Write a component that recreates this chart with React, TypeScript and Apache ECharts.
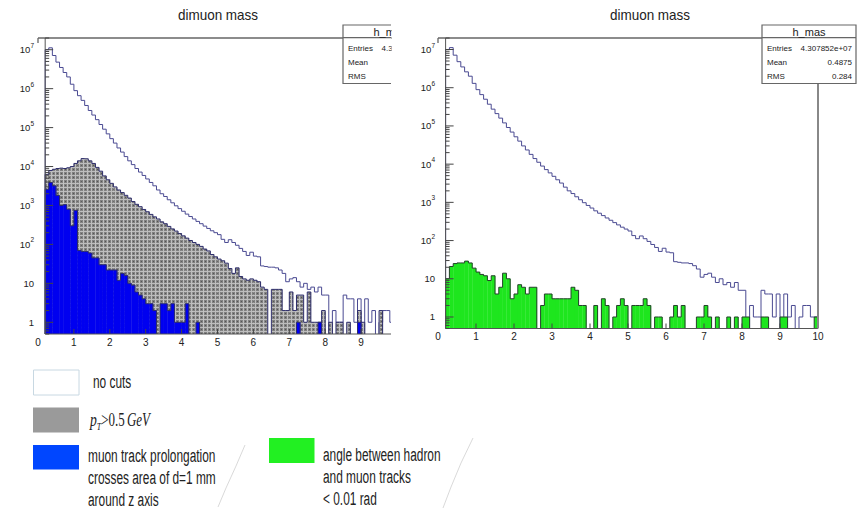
import React, { useEffect, useRef } from "react";
import * as echarts from "echarts";

// ---------- data ----------
const BIN_START = 0.2; // first drawn bin edge
const BIN_WIDTH = 0.1;
const X_MIN = 0;
const X_MAX = 10;
const Y_MIN = 0.5;
const Y_MAX = 2e7;

// counts per 0.1 bin, bins 0.2 .. 9.9
const noCuts = [
  1.0e7, 1.12e7, 7.1e6, 4.8e6, 3.5e6, 2.6e6, 2.0e6, 1.3e6,
  8.9e5, 6.6e5, 5.0e5, 3.7e5, 2.75e5, 2.1e5, 1.6e5, 1.2e5, 9.1e4, 6.9e4,
  5.2e4, 4.0e4, 3.0e4, 2.35e4, 1.8e4, 1.4e4, 1.12e4, 8900, 7200, 5900,
  4800, 3900, 3200, 2500, 2000, 1700, 1400, 1170, 980, 830,
  710, 600, 520, 450, 390, 340, 295, 257, 224, 200,
  178, 135, 112, 132, 112, 95, 79, 66, 52, 63,
  50, 48, 28, 27, 26, 26, 25, 22, 18, 11,
  13, 14, 11, 8, 10, 7, 8, 6, 8, 5,
  5, 0, 2, 1, 1, 5, 4, 4, 1, 4,
  0, 4, 1, 2, 0, 1, 2, 2, 1, 1,
];

const ptCut = [
  6300, 7900, 8500, 8900, 9100, 8900, 9300, 10000,
  12000, 14000, 16000, 15800, 14000, 12000, 9500, 7600, 5750, 4570,
  3700, 3000, 2500, 2140, 1820, 1550, 1260, 1070, 930, 790,
  690, 590, 510, 450, 380, 340, 290, 250, 220, 190,
  166, 145, 126, 112, 100, 89, 76, 68, 55, 48,
  42, 38, 33, 24, 18, 25, 15, 13, 12, 13,
  12, 11, 8, 7, 0, 7, 7, 7, 2, 2,
  6, 2, 5, 5, 1, 6, 1, 1, 1, 2,
  0, 1, 0, 1, 1, 0, 1, 0, 0, 2,
  1, 0, 0, 0, 0, 2, 0, 0, 0, 0,
];

const muonTrackCut = [
  2600, 3900, 3200, 1800, 1000, 1050, 800, 300,
  750, 70, 66, 66, 60, 45, 45, 30, 30, 22,
  22, 22, 12, 18, 16, 10, 9, 6, 5, 4,
  3, 3, 2, 0, 3, 3, 2, 3, 1, 1,
  1, 3, 0, 0, 1, 0, 0, 0, 0, 0,
  0, 0, 0, 0, 0, 0, 0, 0, 0, 0,
  0, 0, 0, 0, 0, 0, 0, 0, 0, 0,
  0, 0, 1, 0, 0, 0, 0, 0, 1, 0,
  0, 0, 0, 0, 0, 0, 0, 0, 0, 1,
  0, 0, 0, 0, 0, 0, 0, 0, 0, 0,
];

const angleCut = [
  10, 21, 25, 26, 26, 29, 26, 19,
  15, 13, 12, 9, 12, 4, 6, 14, 10, 3,
  4, 7, 6, 4, 6, 6, 0, 2, 4, 4,
  3, 3, 3, 3, 3, 6, 5, 2, 2, 0,
  0, 2, 0, 3, 2, 0, 1, 2, 3, 2,
  0, 2, 2, 2, 3, 2, 0, 1, 1, 0,
  0, 1, 2, 1, 2, 0, 0, 0, 1, 1,
  2, 1, 0, 1, 0, 0, 1, 0, 1, 0,
  1, 1, 0, 0, 0, 1, 1, 0, 0, 0,
  1, 1, 0, 0, 0, 0, 0, 0, 0, 1,
];

const panelTitle = "dimuon mass";
const statsName = "h_mas";
const statsLabels = ["Entries", "Mean", "RMS"];
const statsValues = ["4.307852e+07", "0.4875", "0.284"];

const legendNoCuts = "no cuts";
const legendMuon = ["muon track prolongation", "crosses area of d=1 mm", "around z axis"];
const legendAngle = ["angle between hadron", "and muon tracks", "< 0.01 rad"];

// ---------- styles ----------
const FONT = "'Liberation Sans', Arial, sans-serif";
const SERIF = "'Liberation Serif', 'DejaVu Serif', serif";
const NOCUT_LINE = "#4a4a92";
const HIST_LINE = "#2d2d6b";
const BLUE_FILL = "#0000f0";
const GREEN_FILL = "#1ee61e";
const GREEN_LINE = "#24402a";
const FRAME = "#555";
const CROP_X = 391; // the left picture is cut here

function makeHatch(): HTMLCanvasElement {
  const c = document.createElement("canvas");
  c.width = 4;
  c.height = 4;
  const g = c.getContext("2d")!;
  g.fillStyle = "#808080";
  g.fillRect(0, 0, 4, 4);
  g.fillStyle = "#bdbdbd";
  g.fillRect(3, 0, 1, 4);
  g.fillRect(0, 3, 4, 1);
  g.fillStyle = "#555555";
  g.fillRect(1, 1, 1, 1);
  return c;
}

function histSeries(id: string, gridIdx: number, values: number[], fill: any, stroke: string, z: number) {
  const data: number[][] = [];
  for (let i = 0; i <= values.length; i++) {
    const x0 = +(BIN_START + i * BIN_WIDTH).toFixed(2);
    data.push([x0, +(x0 + BIN_WIDTH).toFixed(2), i < values.length ? values[i] : 0, i > 0 ? values[i - 1] : 0]);
  }
  return {
    type: "custom",
    id,
    xAxisIndex: gridIdx,
    yAxisIndex: gridIdx,
    z,
    silent: true,
    clip: true,
    data,
    renderItem(_params: any, api: any) {
      const x0 = api.value(0);
      const x1 = api.value(1);
      const v = api.value(2);
      const pv = api.value(3);
      const b = api.coord([x0, Y_MIN]);
      const base = b[1];
      const px0 = b[0];
      const px1 = api.coord([x1, Y_MIN])[0];
      const lvl = (val: number) => (val > 0 ? api.coord([x0, val])[1] : base);
      const y = lvl(v);
      const py = lvl(pv);
      const children: any[] = [];
      if (fill && v > 0) {
        children.push({ type: "rect", z2: 0, shape: { x: px0, y, width: px1 - px0 + 0.3, height: base - y }, style: { fill } });
      }
      if (Math.abs(py - y) > 0.01) {
        children.push({ type: "line", z2: 10, shape: { x1: px0, y1: py, x2: px0, y2: y }, style: { stroke, lineWidth: 1 } });
      }
      if (v > 0) {
        children.push({ type: "line", z2: 10, shape: { x1: px0, y1: y, x2: px1, y2: y }, style: { stroke, lineWidth: 1 } });
      }
      return { type: "group", children };
    },
  };
}

function frameSeries(gridIdx: number) {
  return {
    type: "custom",
    id: "frame" + gridIdx,
    xAxisIndex: gridIdx,
    yAxisIndex: gridIdx,
    z: 10,
    silent: true,
    clip: false,
    data: [[X_MIN, 1]],
    renderItem(_params: any, api: any) {
      const [xL, yTop] = api.coord([X_MIN, Y_MAX]);
      const [xA, yBot] = api.coord([BIN_START, Y_MIN]);
      const xR = api.coord([X_MAX, Y_MIN])[0];
      const ln = (x1: number, y1: number, x2: number, y2: number, stroke = FRAME, w = 1) => ({
        type: "line",
        shape: { x1, y1, x2, y2 },
        style: { stroke, lineWidth: w },
      });
      const ch: any[] = [];
      ch.push(ln(xL, yTop, xR, yTop, "#666", 1.3));
      ch.push(ln(xL, yTop, xL, yTop + 5, "#666", 1.3));
      ch.push(ln(xA, yTop, xA, yBot, FRAME, 1));
      ch.push(ln(xA, yBot, xR, yBot, FRAME, 1));
      ch.push(ln(xR, yTop, xR, yBot, "#888", 2));
      for (let n = -1; n <= 7; n++) {
        for (let k = 1; k <= 9; k++) {
          const v = k * Math.pow(10, n);
          if (v < Y_MIN || v > Y_MAX) continue;
          const y = api.coord([BIN_START, v])[1];
          ch.push(ln(xA, y, xA + (k === 1 ? 8 : 4), y, "#444", 1));
        }
      }
      for (let t = 1; t < X_MAX; t++) {
        const x = api.coord([t, Y_MIN])[0];
        ch.push(ln(x, yBot, x, yBot - 5, "#444", 1));
      }
      return { type: "group", children: ch };
    },
  };
}

function yLabel(v: number) {
  const n = Math.round(Math.log10(v));
  if (n === 0) return "{b|1}";
  if (n === 1) return "{b|10}";
  return "{b|10}{s|" + n + "}";
}

function xAxisCfg(gridIndex: number) {
  return {
    type: "value",
    gridIndex,
    min: X_MIN,
    max: X_MAX,
    interval: 1,
    axisLine: { show: false },
    axisTick: { show: false },
    splitLine: { show: false },
    axisLabel: { fontSize: 10, color: "#222", margin: 3, fontFamily: FONT },
  };
}

function yAxisCfg(gridIndex: number, margin: number) {
  return {
    type: "log",
    logBase: 10,
    gridIndex,
    min: Y_MIN,
    max: Y_MAX,
    splitNumber: 8,
    axisLine: { show: false },
    axisTick: { show: false },
    splitLine: { show: false },
    axisLabel: {
      showMinLabel: false,
      showMaxLabel: false,
      margin,
      color: "#222",
      fontFamily: FONT,
      formatter: yLabel,
      rich: {
        b: { fontSize: 9.5, lineHeight: 16, fontFamily: FONT, color: "#222" },
        s: { fontSize: 6.5, lineHeight: 7, verticalAlign: "top", fontFamily: FONT, color: "#222" },
      },
    },
  };
}

function txt(x: number, y: number, text: string, fontSize: number, opts: any = {}) {
  const align = opts.align || "left";
  const valign = opts.valign || "middle";
  const style: any = {
    text,
    fontSize,
    fontFamily: opts.font || FONT,
    fill: opts.fill || "#222",
    align,
    textAlign: align,
    verticalAlign: valign,
    textVerticalAlign: valign,
    lineHeight: opts.lineHeight,
  };
  if (opts.width) {
    style.width = opts.width;
    style.overflow = "truncate";
    style.ellipsis = "";
  }
  return { type: "text", x, y, scaleX: opts.scaleX || 1, z: opts.z || 60, style };
}

const STATS_W = 94;
const STATS_ROWS_Y = [48.3, 62.2, 76];

function statsBoxFull(x0: number) {
  const w = STATS_W;
  const children: any[] = [
    { type: "rect", shape: { x: x0, y: 25, width: w, height: 58.5 }, style: { fill: "#fff", stroke: "#666", lineWidth: 1.2 }, z: 50 },
    { type: "line", shape: { x1: x0, y1: 37.7, x2: x0 + w, y2: 37.7 }, style: { stroke: "#666", lineWidth: 1.2 }, z: 51 },
    txt(x0 + w / 2, 31.6, statsName, 11, { align: "center" }),
  ];
  statsLabels.forEach((l, i) => {
    children.push(txt(x0 + 5, STATS_ROWS_Y[i], l, 8));
    children.push(txt(x0 + w - 4, STATS_ROWS_Y[i], statsValues[i], 8, { align: "right" }));
  });
  return children;
}

// the left copy of the box is cut by the edge of the left picture
function statsBoxCut(x0: number) {
  const children: any[] = [
    { type: "rect", shape: { x: x0, y: 25, width: CROP_X - x0, height: 58.5 }, style: { fill: "#fff" }, z: 50 },
    {
      type: "polyline",
      shape: { points: [[CROP_X, 25], [x0, 25], [x0, 83.5], [CROP_X, 83.5]] },
      style: { stroke: "#666", lineWidth: 1.2, fill: "none" },
      z: 51,
    },
    { type: "line", shape: { x1: x0, y1: 37.7, x2: CROP_X, y2: 37.7 }, style: { stroke: "#666", lineWidth: 1.2 }, z: 51 },
    txt(x0 + 30.5, 31.6, statsName, 11, { width: 27 }),
  ];
  statsLabels.forEach((l, i) => children.push(txt(x0 + 5, STATS_ROWS_Y[i], l, 8)));
  children.push(txt(x0 + 38.6, STATS_ROWS_Y[0], statsValues[0], 8, { width: 14.5 }));
  return children;
}

function buildOption() {
  const hatch = makeHatch();
  const hatchFill = { image: hatch, repeat: "repeat", imageWidth: 4, imageHeight: 4 };

  const graphic: any[] = [
    txt(218, 15, panelTitle, 15, { align: "center", scaleX: 0.9 }),
    txt(650, 15, panelTitle, 15, { align: "center", scaleX: 0.9 }),
    ...statsBoxCut(343),
    ...statsBoxFull(762),
    // crop of the left picture
    { type: "rect", shape: { x: CROP_X, y: 84.5, width: 17, height: 272 }, style: { fill: "#fff" }, z: 100 },
    { type: "rect", shape: { x: CROP_X + 0.6, y: 20, width: 8, height: 70 }, style: { fill: "#fff" }, z: 100 },
    // legend
    { type: "rect", shape: { x: 33.5, y: 370, width: 45.5, height: 25 }, style: { fill: "#fff", stroke: "#c8d8e2", lineWidth: 1 }, z: 60 },
    { type: "rect", shape: { x: 33, y: 407.5, width: 46, height: 25 }, style: { fill: "#9a9a9a" }, z: 60 },
    { type: "rect", shape: { x: 33, y: 445, width: 46, height: 24.5 }, style: { fill: "#0046ff" }, z: 60 },
    { type: "rect", shape: { x: 269, y: 438, width: 45.5, height: 25 }, style: { fill: "#22f022" }, z: 60 },
    txt(93, 382, legendNoCuts, 18, { scaleX: 0.66 }),
    {
      type: "text",
      x: 90,
      y: 420,
      scaleX: 0.72,
      z: 60,
      style: {
        text: "{p|p}{t|T}{n|>0.5}{g|GeV}",
        fill: "#222",
        align: "left",
        textAlign: "left",
        verticalAlign: "middle",
        textVerticalAlign: "middle",
        rich: {
          p: { fontFamily: SERIF, fontStyle: "italic", fontSize: 19, lineHeight: 22, fill: "#222" },
          t: { fontFamily: SERIF, fontStyle: "italic", fontSize: 11, lineHeight: 10, verticalAlign: "bottom", fill: "#222" },
          n: { fontFamily: SERIF, fontSize: 18, lineHeight: 22, fill: "#222" },
          g: { fontFamily: SERIF, fontStyle: "italic", fontSize: 18, lineHeight: 22, fill: "#222", padding: [0, 0, 0, 3] },
        },
      },
    },
    txt(88, 445, legendMuon.join("\n"), 18, { scaleX: 0.66, valign: "top", lineHeight: 21.7 }),
    txt(323, 444, legendAngle.join("\n"), 18, { scaleX: 0.66, valign: "top", lineHeight: 21.8 }),
    {
      type: "polyline",
      shape: { points: [[245, 445], [236, 466], [226, 488], [218, 507]] },
      style: { stroke: "#cfcfcf", lineWidth: 0.8, fill: "none" },
      z: 5,
    },
    {
      type: "polyline",
      shape: { points: [[473, 438], [461, 463], [451, 487], [443, 508]] },
      style: { stroke: "#cfcfcf", lineWidth: 0.8, fill: "none" },
      z: 5,
    },
  ];

  return {
    animation: false,
    backgroundColor: "#fff",
    grid: [
      { left: 38, top: 38, width: 359, height: 296 },
      { left: 438, top: 38, width: 380, height: 290.5 },
    ],
    xAxis: [xAxisCfg(0), xAxisCfg(1)],
    yAxis: [yAxisCfg(0, 4), yAxisCfg(1, 3)],
    series: [
      histSeries("noCutsL", 0, noCuts, null, NOCUT_LINE, 2),
      histSeries("ptCut", 0, ptCut, hatchFill, HIST_LINE, 3),
      histSeries("muonTrack", 0, muonTrackCut, BLUE_FILL, HIST_LINE, 4),
      frameSeries(0),
      histSeries("noCutsR", 1, noCuts, null, NOCUT_LINE, 2),
      histSeries("angleCut", 1, angleCut, GREEN_FILL, GREEN_LINE, 3),
      frameSeries(1),
    ],
    graphic: { elements: graphic },
  };
}

export default function App() {
  const ref = useRef<HTMLDivElement>(null);
  useEffect(() => {
    if (!ref.current) return;
    const chart = echarts.init(ref.current, undefined, { renderer: "svg" });
    chart.setOption(buildOption() as any);
    return () => chart.dispose();
  }, []);
  return (
    <div
      ref={ref}
      style={{ position: "fixed", left: 0, top: 0, width: 859, height: 509, background: "#fff" }}
    />
  );
}
